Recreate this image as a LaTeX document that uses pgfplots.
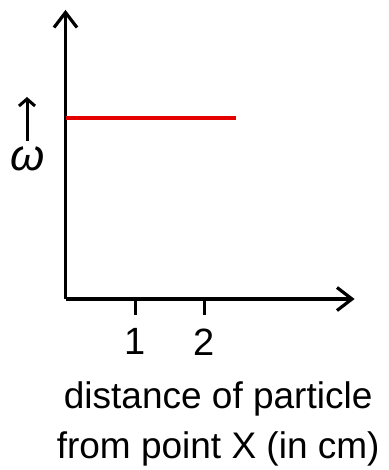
\documentclass[border=0pt]{standalone}
\usepackage{pgfplots}
\pgfplotsset{compat=1.18}
\usepackage{fontspec}
\setmainfont{Liberation Sans}
\usetikzlibrary{arrows.meta}

\begin{document}
\begin{tikzpicture}[x=1pt,y=1pt]
\useasboundingbox (0,0) rectangle (388,-470);
\begin{axis}[
  at={(65.5pt,-299pt)}, anchor=south west,
  x=69.5pt, y=69pt,
  xmin=0, xmax=4.16, ymin=0, ymax=4.19,
  axis lines=left,
  axis line style={line width=3.2pt},
  every outer x axis line/.append style={-{Straight Barb[length=15pt,width=23pt]}},
  every outer y axis line/.append style={-{Straight Barb[length=15pt,width=23pt]}},
  xtick={1,2}, ytick=\empty,
  tick align=outside,
  major tick length=16pt,
  tick style={line width=3pt, black},
  /pgf/number format/assume math mode=true,
  xticklabel style={font=\fontsize{38}{38}\selectfont, yshift=-10pt},
  xlabel={distance of particle\\from point X (in cm)},
  xlabel style={align=center, font=\fontsize{37}{50}\selectfont,
    at={(axis description cs:0.528,-0.433)}, anchor=center},
  clip=false,
]
% angular velocity stays constant along the distance
\addplot[line width=3.6pt, color=red!90!black, no markers] coordinates {(0,2.62) (2.46,2.62)};
\end{axis}
% y-axis quantity with its upward arrow
\draw[line width=3pt, -{Straight Barb[length=7pt,width=16pt]}] (27,-141) -- (27,-97);
\node[font=\fontsize{44}{44}\selectfont\itshape] at (28,-159) {ω};
\end{tikzpicture}
\end{document}
